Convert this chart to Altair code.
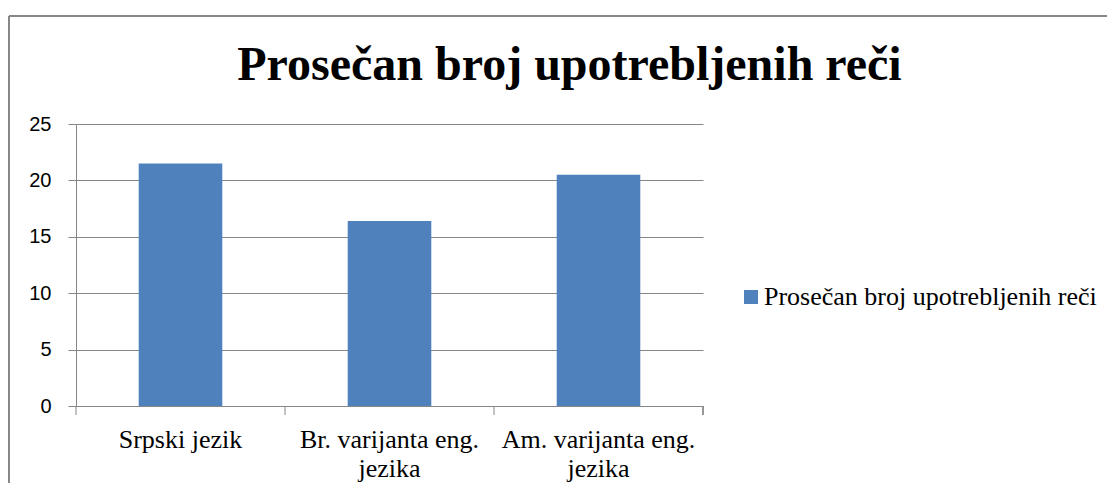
import altair as alt
import pandas as pd

categories = ["Srpski jezik", "Br. varijanta eng. jezika", "Am. varijanta eng. jezika"]
values = [21.5, 16.4, 20.5]
series_name = "Prosečan broj upotrebljenih reči"
y_ticks = [0, 5, 10, 15, 20, 25]

df = pd.DataFrame({"category": categories, "value": values, "series": [series_name] * len(categories)})

W, H = 627, 282
PAD_L, PAD_T = 68, 116
TOTAL_W, TOTAL_H = 1099, 475
GRAY = "#868686"
BLUE = "#4F81BD"
SERIF = "Liberation Serif"

label_expr = ("datum.label == 'Srpski jezik' ? datum.label : "
              "split(replace(datum.label, ' jezika', '|jezika'), '|')")

x_enc = alt.X(
    "category:N", sort=categories,
    scale=alt.Scale(paddingInner=0, paddingOuter=0),
    axis=alt.Axis(title=None, labelAngle=0, ticks=False, tickSize=0, domain=True, domainColor=GRAY,
                  labelExpr=label_expr, labelFont=SERIF, labelFontSize=26,
                  labelColor="black", labelPadding=20, labelLimit=0, labelLineHeight=29),
)

bars = alt.Chart(df).mark_bar(width=alt.RelativeBandSize(0.4)).encode(
    x=x_enc,
    y=alt.Y("value:Q", scale=alt.Scale(domain=[0, 25]),
            axis=alt.Axis(values=y_ticks, title=None, grid=True, gridColor=GRAY, gridOpacity=1,
                          tickColor=GRAY, tickSize=8, domainColor=GRAY,
                          labelFont="Liberation Sans", labelFontSize=20, labelColor="black",
                          labelPadding=17)),
    color=alt.Color("series:N", scale=alt.Scale(range=[BLUE]),
                    legend=alt.Legend(title=None, orient="none", legendX=662, legendY=160,
                                      symbolType="square", symbolSize=196, symbolStrokeWidth=0,
                                      labelFont=SERIF, labelFontSize=26,
                                      labelColor="black", labelLimit=0, labelOffset=0)),
)

ticks = alt.Chart(df).mark_rule(color=GRAY, strokeWidth=1).encode(
    x=alt.X("category:N", sort=categories, bandPosition=0),
    y=alt.value(H), y2=alt.value(H + 9),
)
end_tick = alt.Chart(df).mark_rule(color=GRAY, strokeWidth=1).encode(
    x=alt.value(W), y=alt.value(H), y2=alt.value(H + 9),
)
frame_left = alt.Chart(df).mark_rule(color=GRAY, strokeWidth=1.5).encode(
    x=alt.value(-PAD_L + 1), y=alt.value(-108), y2=alt.value(TOTAL_H - PAD_T),
)
frame_top = alt.Chart(df).mark_rule(color=GRAY, strokeWidth=1.5).encode(
    x=alt.value(-PAD_L + 1), x2=alt.value(TOTAL_W - PAD_L), y=alt.value(-108),
)

chart = alt.layer(frame_left, frame_top, bars, ticks, end_tick).properties(
    width=W, height=H,
    autosize=alt.AutoSizeParams(type="none"),
    padding={"left": PAD_L, "top": PAD_T, "right": TOTAL_W - PAD_L - W, "bottom": TOTAL_H - PAD_T - H},
    title=alt.TitleParams(series_name, font=SERIF, fontSize=48, fontWeight="bold",
                          color="black", anchor="middle", frame="group", dx=180,
                          baseline="alphabetic", offset=0, dy=113),
).configure_view(stroke=None).configure_legend(labelFont=SERIF, labelFontSize=26)

chart.save("out.html", embed_options={"renderer": "svg", "actions": False})
